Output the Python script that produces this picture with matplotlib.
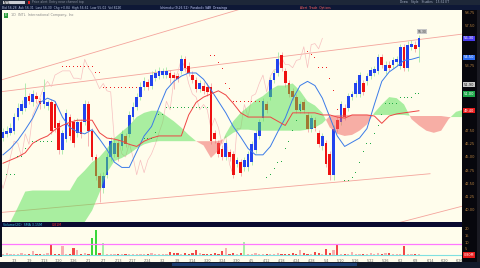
import numpy as np
import matplotlib
matplotlib.use("Agg")
import matplotlib.pyplot as plt
from matplotlib.patches import Rectangle

# daily bars
opens = [46.8, 47.2, 47.3, 47.5, 48.8, 49.4, 49.7, 50.8, 50.2, 50.8,
         50.3, 50.0, 49.9, 50.2, 50.0, 48.2, 45.7, 46.7, 48.8, 48.3,
         47.3, 48.3, 48.3, 50.0, 47.5, 45.0, 43.2, 42.0, 43.3, 45.0,
         45.3, 46.3, 46.0, 47.0, 47.2, 48.8, 49.8, 50.7, 51.7, 52.1,
         51.8, 52.5, 52.7, 52.8, 52.8, 53.0, 52.8, 52.7, 53.2, 54.3,
         53.7, 52.8, 52.3, 51.5, 51.8, 51.7, 51.7, 47.3, 46.3, 45.8,
         45.0, 45.5, 45.3, 44.3, 44.5, 44.0, 44.0, 44.5, 45.7, 47.0,
         48.7, 50.0, 50.7, 52.3, 53.0, 54.7, 53.2, 52.0, 51.3, 50.7,
         49.5, 50.2, 49.0, 47.7, 48.5, 47.3, 46.0, 46.3, 45.3, 43.3,
         48.5, 48.3, 49.7, 49.7, 50.7, 51.0, 51.0, 52.0, 52.2, 52.7,
         53.0, 53.2, 54.5, 53.2, 53.8, 53.8, 54.0, 53.7, 55.5, 53.5,
         55.5, 55.7, 55.5]
closes = [47.4, 47.5, 47.8, 48.8, 49.7, 50.0, 50.7, 50.3, 51.0, 50.5,
          50.0, 51.2, 50.2, 47.5, 47.8, 45.7, 47.3, 49.2, 47.0, 46.3,
          48.3, 47.2, 50.0, 47.5, 45.0, 43.2, 42.0, 43.2, 45.0, 46.5,
          46.3, 45.0, 47.2, 46.2, 49.0, 49.8, 50.7, 51.7, 52.2, 51.7,
          52.8, 53.0, 53.2, 53.2, 53.2, 52.5, 52.5, 52.4, 54.3, 53.5,
          53.0, 52.3, 51.5, 52.0, 51.3, 51.2, 46.5, 46.7, 45.3, 45.0,
          46.3, 45.0, 43.3, 44.7, 43.5, 44.7, 45.3, 46.2, 47.3, 48.3,
          50.3, 49.5, 52.3, 53.0, 54.3, 53.5, 52.0, 51.0, 50.7, 49.5,
          50.0, 49.5, 47.7, 48.7, 47.8, 46.2, 47.0, 44.3, 43.3, 47.7,
          47.7, 50.0, 48.8, 50.8, 51.0, 52.0, 52.8, 51.2, 52.7, 53.3,
          53.4, 54.5, 53.8, 53.8, 53.5, 54.2, 54.3, 55.5, 53.5, 55.7,
          55.8, 55.3, 56.3]
highs = [47.8, 47.9, 48.2, 49.2, 50.1, 50.4, 52.0, 51.1, 51.4, 51.2,
         50.6, 52.4, 50.4, 50.5, 50.3, 48.5, 47.6, 49.6, 49.1, 48.6,
         48.7, 48.6, 50.4, 50.3, 47.8, 45.3, 43.5, 43.6, 45.4, 46.9,
         46.7, 46.6, 47.6, 47.3, 49.4, 50.2, 51.1, 52.1, 52.6, 52.4,
         53.2, 53.4, 53.6, 53.5, 53.6, 53.3, 53.1, 53.0, 54.7, 54.6,
         54.0, 53.2, 52.6, 52.3, 52.1, 52.0, 52.0, 47.6, 46.6, 46.1,
         46.6, 45.8, 45.6, 45.0, 44.8, 45.0, 45.6, 46.5, 47.6, 48.6,
         50.6, 50.3, 52.6, 53.3, 55.0, 55.0, 53.5, 52.3, 51.6, 51.0,
         50.3, 50.5, 49.3, 49.0, 48.8, 47.6, 47.3, 46.6, 45.6, 48.0,
         48.8, 50.3, 50.0, 51.1, 51.3, 52.3, 53.1, 52.3, 53.0, 53.6,
         53.7, 54.8, 54.8, 54.1, 54.1, 54.5, 54.6, 55.8, 55.8, 56.0,
         56.1, 56.0, 56.6]
lows = [46.5, 46.9, 47.1, 47.2, 48.5, 49.1, 49.4, 50.0, 49.9, 50.1,
        49.6, 49.7, 49.5, 47.2, 47.4, 45.3, 45.3, 46.4, 46.6, 45.9,
        46.9, 46.8, 48.0, 46.0, 44.7, 42.8, 40.7, 41.6, 43.0, 44.6,
        45.0, 44.6, 45.7, 45.9, 46.9, 48.5, 49.5, 50.4, 51.4, 51.4,
        51.5, 52.2, 52.4, 52.5, 52.5, 52.0, 51.5, 52.1, 52.9, 53.2,
        52.7, 52.0, 51.2, 51.2, 51.0, 50.8, 46.2, 46.3, 45.0, 44.7,
        44.7, 44.6, 43.0, 44.0, 43.2, 43.7, 43.7, 44.2, 45.4, 46.7,
        48.4, 49.2, 50.4, 52.0, 52.7, 53.2, 51.7, 50.7, 50.4, 49.2,
        49.2, 49.2, 47.4, 47.4, 47.5, 45.9, 45.7, 44.0, 42.8, 42.8,
        47.4, 48.0, 48.5, 49.4, 50.4, 50.7, 50.7, 50.9, 51.9, 52.4,
        52.7, 52.9, 53.5, 52.9, 53.2, 53.5, 53.7, 53.4, 53.2, 53.2,
        55.2, 55.0, 54.0]
# volume, millions
volume = [0.8, 2.2, 0.9, 1.3, 0.8, 2.2, 0.9, 1.0, 3.0, 1.4,
          1.0, 1.4, 2.2, 7.8, 1.2, 0.9, 7.5, 1.0, 1.3, 5.3,
          3.8, 1.0, 1.6, 1.0, 13.3, 19.5, 1.5, 9.2, 1.2, 0.8,
          1.3, 0.9, 1.3, 1.3, 0.9, 1.0, 0.8, 0.9, 0.8, 0.8,
          2.2, 0.9, 0.9, 1.3, 0.9, 2.6, 2.2, 2.2, 0.9, 2.2,
          0.9, 2.2, 3.8, 2.2, 0.9, 1.3, 0.9, 2.2, 1.3, 3.0,
          5.3, 0.9, 2.2, 0.9, 2.2, 10.0, 1.3, 0.9, 2.2, 0.8,
          0.9, 0.9, 0.8, 0.9, 2.2, 0.8, 0.9, 0.9, 2.2, 0.9,
          4.0, 2.2, 1.3, 1.3, 2.6, 2.2, 0.9, 4.5, 2.2, 3.8,
          8.3, 0.8, 0.9, 0.9, 2.6, 0.9, 0.9, 0.9, 0.9, 2.2,
          1.3, 2.2, 1.3, 2.2, 2.2, 0.9, 0.9, 1.3, 7.5, 1.3,
          0.8, 0.8, 0.8]
vol_limit = 9.0

# ichimoku lines, every 2nd bar
tenkan = [45.2, 45.8, 46.6, 47.6, 48.7, 50.2, 50.6, 50.3, 48.8, 47.8,
          47.4, 47.2, 47.6, 46.7, 45.7, 44.5, 44.0, 44.0, 45.5, 47.0,
          47.9, 49.7, 51.4, 52.2, 52.7, 53.0, 53.0, 52.4, 51.4, 50.3,
          49.2, 47.9, 46.9, 45.8, 45.2, 45.2, 46.0, 47.4, 48.7, 50.5,
          51.8, 52.2, 51.8, 50.6, 48.8, 47.0, 46.0, 46.4, 46.8, 47.7,
          50.0, 52.2, 53.1, 53.6, 54.2, 54.3, 54.5]
kijun = [44.4, 44.7, 45.0, 45.4, 46.3, 46.7, 47.0, 47.6, 48.0, 48.3,
         48.5, 48.5, 48.5, 47.3, 46.8, 46.7, 46.5, 46.2, 46.0, 46.5,
         46.8, 47.0, 47.0, 47.0, 47.0, 49.0, 50.2, 50.7, 51.0, 51.3,
         50.9, 50.1, 49.2, 48.8, 48.8, 48.8, 48.8, 48.4, 48.0, 49.2,
         49.2, 49.2, 49.2, 49.0, 49.0, 48.8, 48.7, 49.0, 49.0, 49.0,
         48.9, 48.2, 48.9, 49.1, 49.2, 49.3, 49.4]
# cloud (already shifted forward), every 2nd bar
span_a = [38.6, 38.8, 40.2, 41.7, 41.8, 41.8, 41.8, 41.8, 41.8, 41.8,
          43.0, 43.7, 44.5, 45.0, 45.8, 46.8, 47.4, 48.0, 48.8, 49.2,
          49.4, 49.4, 48.9, 48.4, 47.8, 47.1, 46.5, 46.1, 44.9, 45.6,
          47.2, 48.4, 49.2, 49.8, 50.4, 50.8, 51.4, 51.8, 51.8, 52.0,
          51.3, 50.3, 49.9, 49.2, 47.8, 47.2, 47.0, 47.1, 47.5, 48.1,
          49.2, 50.0, 50.7, 50.6, 50.0, 48.6, 48.0, 47.5, 47.3, 47.5,
          48.6, 49.3, 49.5]
span_b = [37.4, 37.4, 37.4, 37.4, 37.4, 37.4, 37.4, 37.4, 37.4, 37.4,
          37.9, 38.8, 39.9, 41.6, 43.5, 44.6, 44.9, 45.3, 45.8, 46.2,
          46.4, 46.5, 46.5, 46.5, 46.5, 46.5, 46.5, 46.5, 46.5, 46.5,
          46.8, 47.3, 47.6, 47.6, 47.5, 47.5, 47.5, 47.5, 47.5, 47.5,
          47.5, 47.6, 47.8, 48.2, 48.9, 49.0, 49.0, 49.0, 49.0, 49.0,
          49.0, 49.0, 49.0, 49.0, 49.0, 48.9, 48.9, 48.9, 48.9, 48.9,
          48.8, 48.8, 48.8]

# parabolic SAR, one per bar (None = flip bar)
sar = [None, 43.3, 43.3, 43.3, 45.0, 45.0, 45.8, 46.2, 46.5, 46.5,
       46.5, 46.5, 46.5, 46.5, 46.5, None, 53.6, 53.6, 53.6, 53.6,
       53.6, 53.6, 53.6, 53.6, 53.6, 53.0, 53.0, 51.6, 51.6, 51.6,
       51.6, 51.6, 51.6, 51.6, 51.6, 51.6, 51.6, None, 46.8, 46.8,
       46.8, 47.3, 49.0, 49.0, 49.7, 49.7, 49.7, 49.7, 49.7, 49.7,
       49.7, 49.7, 49.7, 49.7, 49.7, 49.7, 54.7, 54.7, 54.0, 53.4,
       52.0, 51.5, 50.3, 50.3, 50.3, 50.3, 50.3, 50.3, 50.3, 50.3,
       None, 43.0, 43.3, 43.9, 44.5, 44.6, 45.8, 46.5, 47.5, 48.5,
       49.4, None, 55.0, 54.8, 54.5, 53.5, 53.5, 53.5, 52.5, 51.3,
       49.5, None, 42.8, 42.8, 43.0, 43.5, 44.5, 45.5, 46.3, 46.3,
       47.2, 48.0, 49.0, 50.1, 50.1, 50.1, 50.1, 50.7, 50.7, 50.7,
       50.7, 51.0, 51.0]
alert_level = 51.9

# drawn trend lines: bar, price -> bar, price
trend_lines = [(-0.8, 51.2, 123.6, 56.7),
               (-0.8, 52.3, 66.0, 59.3),
               (-0.8, 39.7, 115.0, 43.4),
               (104.0, 38.5, 123.6, 40.3)]

dates = ['1/3', '1/9', '1/13', '1/20', '1/26', '2/1', '2/7', '2/13', '2/17', '2/24',
         '3/2', '3/8', '3/14', '3/20', '3/24', '3/30', '4/5', '4/12', '4/18', '4/24',
         '4/28', '5/4', '5/10', '5/16', '5/22', '5/26', '6/2', '6/8', '6/14', '6/20', '6/26']

W, H = 480, 268
fig = plt.figure(figsize=(W / 100, H / 100), dpi=100, facecolor="#0c1020")


def band(x, y, w, h, color, z=-1):
    fig.add_artist(Rectangle((x / W, 1 - (y + h) / H), w / W, h / H, transform=fig.transFigure,
                             facecolor=color, edgecolor="none", zorder=z))


def ftext(x, y, s, color, size=2.6, **kw):
    fig.text(x / W, 1 - y / H, s, color=color, fontsize=size, va="center", **kw)


# window chrome
band(0, 0, W, 5, "#1d2738")
band(0, 5, W, 5, "#0e1836")
band(462, 10, 18, 252, "#07070d")
band(477, 10, 3, 252, "#1a1a22")
band(0, 222, 462, 5, "#0a0a30")
band(0, 257, 462, 5, "#fffdec")
band(0, 262, W, 6, "#121a2a")
band(172, 263, 185, 3, "#1c3d70")
band(3, 1, 22, 3, "#c9ccd3", z=1)
band(28, 1.5, 2, 2, "#e02020", z=1)
ftext(4, 2.5, "INTL", "#222222", 2.2)
ftext(32, 2.5, "Price alert: Entry near channel top", "#8c93a4", 2.2)
ftext(400, 2.5, "Draw   Style   Studies   15:32 ET", "#aab3c8", 2.2)
ftext(2, 7.5, "Bid 56.28  Ask 56.31  Last 56.30  Chg +0.84  High 56.61  Low 55.02  Vol 812K", "#b8c4e0", 2.2)
ftext(160, 7.5, "Ichimoku (9,26,52)  Parabolic SAR  Drawings", "#c8d0ff", 2.2)
ftext(300, 7.5, "Alert  Trade  Options", "#ff6060", 2.2)

# price panel
ax = fig.add_axes([2 / W, 1 - 222 / H, 460 / W, 212 / H])
ax.set_facecolor("#fffdec")
o, c, hi, lo = map(np.array, (opens, closes, highs, lows))
x = np.arange(len(c))
up = c >= o

for x0, y0, x1, y1 in trend_lines:
    ax.plot([x0, x1], [y0, y1], color="#f4a49c", lw=0.6, zorder=1)
ax.plot(x - 26, c, color="#f7c0c0", lw=0.5, zorder=1)  # lagging span

ax.vlines(x, lo, hi, colors=np.where(up, "#a6e8a6", "#f5a8a8"), lw=0.6, zorder=2)
ax.bar(x, c - o, bottom=o, width=0.72, color=np.where(up, "#2244ee", "#ee1111"), lw=0, zorder=3)

cx = np.arange(0, 2 * len(span_a), 2)
a, b = np.array(span_a), np.array(span_b)
ax.fill_between(cx, a, b, where=a >= b, interpolate=True, color="#55e055", alpha=0.5, lw=0, zorder=4)
ax.fill_between(cx, a, b, where=a < b, interpolate=True, color="#f06060", alpha=0.5, lw=0, zorder=4)

lx = np.arange(0, 2 * len(tenkan), 2)
ax.plot(lx, tenkan, color="#3b7be8", lw=0.7, zorder=5)
ax.plot(lx, kijun, color="#ee4444", lw=0.7, zorder=5)

s = np.array([np.nan if v is None else v for v in sar])
ok = ~np.isnan(s)
ax.scatter(x[ok], s[ok], marker="s", s=0.5, lw=0, zorder=6,
           c=np.where(s[ok] > c[ok], "#ee2222", "#22aa44"))

tags = [(c[-1], "#4a3cf0", "white"), (tenkan[-1], "#2d6cf0", "white"),
        (alert_level, "#c8c8c8", "#222222"), (s[-1], "#1ea84a", "white"),
        (kijun[-1], "#e81c1c", "white")]

ax.set_xlim(-0.27, 123.6)
ax.set_ylim(38.8, 59.0)
ax.set_xticks([])
ax.yaxis.tick_right()
yt = np.arange(40, 59, 1.25)
ax.set_yticks(yt)
# labels hidden under the coloured price tags
ax.set_yticklabels(["" if min(abs(v - t[0]) for t in tags) < 0.7 else f"{v:.2f}" for v in yt])
ax.tick_params(axis="y", length=0, pad=2, labelsize=2.6, labelcolor="#b58040")
for sp in ax.spines.values():
    sp.set_visible(False)

ax.text(0.006, 0.985, "E", transform=ax.transAxes, fontsize=2.4, color="white", va="top",
        bbox=dict(boxstyle="square,pad=0.2", fc="#2a9a3a", ec="none"))
ax.text(0.02, 0.985, "1D  INTL  International Company, Inc", transform=ax.transAxes,
        fontsize=2.4, color="#8a8a8a", va="top")
ax.text(x[-1] - 0.3, hi[-1] + 0.15, f"{c[-1]:.2f}", fontsize=2.2, color="#333333", ha="left",
        va="bottom", bbox=dict(boxstyle="square,pad=0.2", fc="#c8c8c8", ec="none"), zorder=7)

for price, fc, tc in tags:
    ax.text(1.004, price, f"{price:.2f}", transform=ax.get_yaxis_transform(), fontsize=2.6,
            color=tc, va="center", ha="left", clip_on=False, zorder=10,
            bbox=dict(boxstyle="square,pad=0.2", fc=fc, ec="none"))

# volume panel
ftext(3, 224.5, "Volume(20)  SMA 3.15M", "#3cc8e8", 2.3)
ftext(52, 224.5, "0.81M", "#ff3030", 2.3)
axv = fig.add_axes([2 / W, 1 - 257 / H, 460 / W, 30 / H])
axv.set_facecolor("#fffdec")
v = np.array(volume)
big = v > vol_limit
vcol = np.where(big, np.where(up, "#a8eea8", "#3ad63a"), np.where(up, "#f7b0b0", "#f04848"))
axv.bar(x, v, width=0.6, color=vcol, lw=0, zorder=2)
axv.axhline(vol_limit, color="#ff77ff", lw=0.9, zorder=3)
axv.axhline(0.2, color="#7fe0e0", lw=0.8, zorder=1)
axv.set_xlim(-0.27, 123.6)
axv.set_ylim(-1.2, 21.5)
axv.yaxis.tick_right()
axv.set_yticks([5, 10, 15, 20])
axv.tick_params(axis="y", length=0, pad=2, labelsize=2.6, labelcolor="#b58040")
axv.set_xticks(np.arange(3, 3 + 4 * len(dates), 4))
axv.set_xticklabels(dates)
axv.tick_params(axis="x", length=0, pad=1.2, labelsize=2.4, labelcolor="#666666")
for sp in axv.spines.values():
    sp.set_visible(False)
axv.text(1.004, 0.4, f"{v[-1]:.2f}M", transform=axv.get_yaxis_transform(), fontsize=2.4,
         color="white", va="center", ha="left", clip_on=False,
         bbox=dict(boxstyle="square,pad=0.2", fc="#e81c1c", ec="none"))

fig.savefig("out.png", dpi=100, facecolor=fig.get_facecolor())
